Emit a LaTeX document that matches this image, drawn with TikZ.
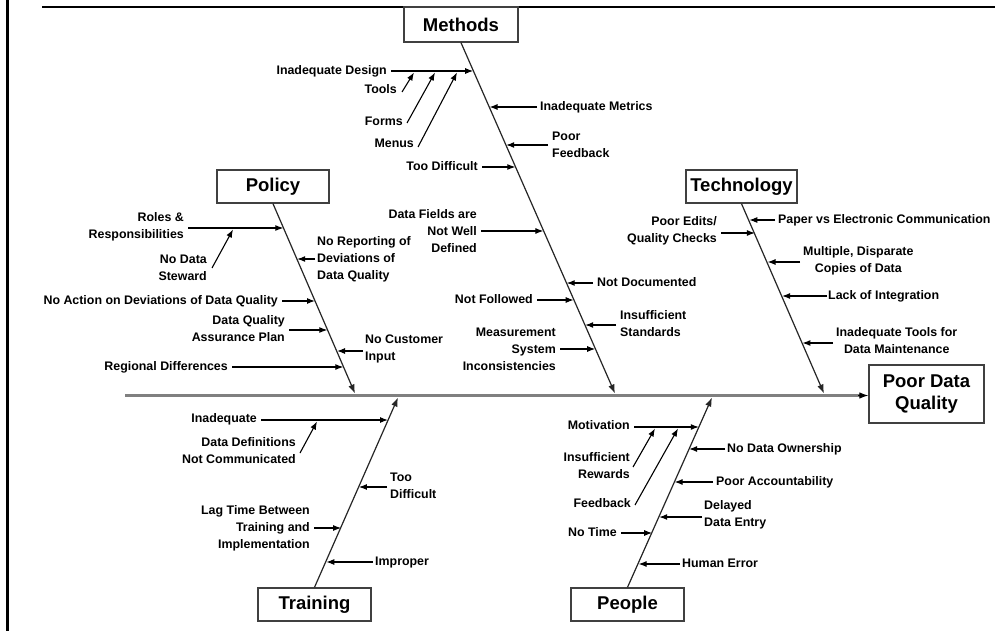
\documentclass[tikz,border=0pt]{standalone}
\usepackage{fontspec}
\setmainfont{Liberation Sans}
\usetikzlibrary{arrows.meta,calc}
\begin{document}
\begin{tikzpicture}[x=1pt,y=-1pt,
  lbl/.style={inner sep=0pt, font=\fontsize{12.4}{17}\selectfont\bfseries, text height=8.8pt, text depth=2.5pt},
  mlbl/.style={inner sep=0pt, font=\fontsize{12.4}{17}\selectfont\bfseries},
  cat/.style={draw=black!75, line width=1.4pt, fill=white, inner sep=0pt, font=\fontsize{18.5}{22}\selectfont\bfseries, minimum height=33pt},
  arr/.style={draw=black, line width=1.1pt, -{Latex[length=8pt,width=6pt]}},
  bone/.style={draw=black!85, line width=1.2pt, -{Latex[length=9pt,width=6.5pt]}},
  spine/.style={draw=black!50, line width=2.6pt},
  spinearr/.style={draw=black, line width=1pt, -{Latex[length=9pt,width=6.5pt]}},
  frame/.style={draw=black, line width=3pt}
]
\useasboundingbox (0,0) rectangle (1006,631);
\fill[white] (0,0) rectangle (1006,631);

% frame
\coordinate (fl1) at (7.5,0);
\coordinate (fl2) at (7.5,631);
\coordinate (ft1) at (42,7);
\coordinate (ft2) at (995,7);
\draw[frame] (fl1) -- (fl2);
\draw[draw=black, line width=2pt] (ft1) -- (ft2);

% category boxes
\node[cat, minimum width=114pt, minimum height=35pt] (methods) at (461,24.5) {Methods};
\node[cat, minimum width=112pt] (policy) at (273,186.5) {Policy};
\node[cat, minimum width=111pt] (tech) at (741.5,186.5) {Technology};
\node[cat, minimum width=113pt] (training) at (314.5,604.5) {Training};
\node[cat, minimum width=113pt] (people) at (627.5,604.5) {People};
\node[cat, minimum width=115pt, minimum height=58pt, align=center] (pdq) at (926.5,394) {Poor Data\\Quality};

% main spine
\coordinate (spstart) at (125,395.5);
\draw[spine] (spstart) -- ($(pdq.west |- spstart)+(-8,0)$);
\draw[spinearr] ($(pdq.west |- spstart)+(-10,0)$) -- (pdq.west |- spstart);

% bone end points
\coordinate (mE) at (615,393.5);
\coordinate (pE) at (355,393.5);
\coordinate (tE) at (824,393.5);
\coordinate (trE) at (398,397.5);
\coordinate (peE) at (712,397.5);
\draw[bone] (methods.south) -- (mE);
\draw[bone] (policy.south) -- (pE);
\draw[bone] (tech.south) -- (tE);
\draw[bone] (training.north) -- (trE);
\draw[bone] (people.north) -- (peE);

% ---------- Methods ----------
\coordinate (m1) at (473.2,71);
\coordinate (m2) at (489.5,107);
\coordinate (m3) at (506.2,145);
\coordinate (m4) at (515.3,167);
\coordinate (m5) at (543.4,231);
\coordinate (m6) at (566.7,283);
\coordinate (m7) at (573.7,300);
\coordinate (m8) at (585.2,325);
\coordinate (m9) at (595.2,349);
\coordinate (m1a) at (414,72.5);
\coordinate (m1b) at (435,72.5);
\coordinate (m1c) at (457,72.5);

\node[lbl, anchor=east] (insdesign) at (387,71) {Inadequate Design};
\node[lbl, anchor=east] (tools) at (397,90) {Tools};
\node[lbl, anchor=east] (forms) at (403,122) {Forms};
\node[lbl, anchor=east] (menus) at (414,144) {Menus};
\node[lbl, anchor=west] (inmetrics) at (540,107) {Inadequate Metrics};
\node[mlbl, anchor=west, align=left] (poorfb) at (552,145) {Poor\\Feedback};
\node[lbl, anchor=east] (toodiff) at (478,167) {Too Difficult};
\node[mlbl, anchor=east, align=right] (datafields) at (477,231) {Data Fields are\\Not Well\\Defined};
\node[lbl, anchor=west] (notdoc) at (597,283) {Not Documented};
\node[lbl, anchor=east] (notfollowed) at (533,300) {Not Followed};
\node[mlbl, anchor=west, align=left] (insstd) at (620,324) {Insufficient\\Standards};
\node[mlbl, anchor=east, align=right] (meas) at (556,349) {Measurement\\System\\Inconsistencies};

\draw[arr] ($(insdesign.east |- m1)+(4,0)$) -- (m1);
\draw[arr] ($(tools.east)+(5,2)$) -- (m1a);
\draw[arr] ($(forms.east)+(4,1)$) -- (m1b);
\draw[arr] ($(menus.east)+(4,3)$) -- (m1c);
\draw[arr] ($(inmetrics.west |- m2)+(-3,0)$) -- (m2);
\draw[arr] ($(poorfb.west |- m3)+(-4,0)$) -- (m3);
\draw[arr] ($(toodiff.east |- m4)+(4,0)$) -- (m4);
\draw[arr] ($(datafields.east |- m5)+(4,0)$) -- (m5);
\draw[arr] ($(notdoc.west |- m6)+(-4,0)$) -- (m6);
\draw[arr] ($(notfollowed.east |- m7)+(4,0)$) -- (m7);
\draw[arr] ($(insstd.west |- m8)+(-4,0)$) -- (m8);
\draw[arr] ($(meas.east |- m9)+(4,0)$) -- (m9);

% ---------- Policy ----------
\coordinate (p1) at (283.3,228);
\coordinate (p2) at (297.2,259);
\coordinate (p3) at (315,301);
\coordinate (p4) at (327.3,330);
\coordinate (p5) at (337,351);
\coordinate (p6) at (343.3,367);
\coordinate (p1a) at (233,229.5);

\node[mlbl, anchor=east, align=right] (roles) at (184,227) {Roles \&\\Responsibilities};
\node[mlbl, anchor=east, align=right] (nosteward) at (207,268) {No Data\\Steward};
\node[mlbl, anchor=west, align=left] (noreport) at (317,259) {No Reporting of\\Deviations of\\Data Quality};
\node[lbl, anchor=east] (noaction) at (278,301) {No Action on Deviations of Data Quality};
\node[mlbl, anchor=east, align=right] (dqap) at (285,329) {Data Quality\\Assurance Plan};
\node[mlbl, anchor=west, align=left] (nocust) at (365,349) {No Customer\\Input};
\node[lbl, anchor=east] (regional) at (228,367) {Regional Differences};

\draw[arr] ($(roles.east |- p1)+(4,0)$) -- (p1);
\draw[arr] ($(nosteward.east)+(5,0)$) -- (p1a);
\draw[arr] ($(noreport.west |- p2)+(-2,0)$) -- (p2);
\draw[arr] ($(noaction.east |- p3)+(4,0)$) -- (p3);
\draw[arr] ($(dqap.east |- p4)+(4,0)$) -- (p4);
\draw[arr] ($(nocust.west |- p5)+(-2,0)$) -- (p5);
\draw[arr] ($(regional.east |- p6)+(4,0)$) -- (p6);

% ---------- Technology ----------
\coordinate (t1) at (749.3,220);
\coordinate (t2) at (754.9,233);
\coordinate (t3) at (767.5,262);
\coordinate (t4) at (782.1,296);
\coordinate (t5) at (802.4,343);

\node[lbl, anchor=west] (paper) at (778,220) {Paper vs Electronic Communication};
\node[mlbl, anchor=east, align=right] (pooredits) at (717,231) {Poor Edits/\\Quality Checks};
\node[mlbl, anchor=west, align=center] (multiple) at (803,261) {Multiple, Disparate\\Copies of Data};
\node[lbl, anchor=west] (lack) at (828,296) {Lack of Integration};
\node[mlbl, anchor=west, align=center] (inadtools) at (836,341) {Inadequate Tools for\\Data Maintenance};

\draw[arr] ($(paper.west |- t1)+(-3,0)$) -- (t1);
\draw[arr] ($(pooredits.east |- t2)+(4,0)$) -- (t2);
\draw[arr] ($(multiple.west |- t3)+(-3,0)$) -- (t3);
\draw[arr] ($(lack.west |- t4)+(-1,0)$) -- (t4);
\draw[arr] ($(inadtools.west |- t5)+(-3,0)$) -- (t5);

% ---------- Training ----------
\coordinate (r1) at (388,420);
\coordinate (r2) at (358.9,487);
\coordinate (r3) at (341.1,528);
\coordinate (r4) at (326.3,562);
\coordinate (r1a) at (317,421.5);

\node[lbl, anchor=east] (tinad) at (257,419) {Inadequate};
\node[mlbl, anchor=east, align=right] (datadef) at (296,451) {Data Definitions\\Not Communicated};
\node[mlbl, anchor=west, align=left] (ttoodiff) at (390,486) {Too\\Difficult};
\node[mlbl, anchor=east, align=right] (lagtime) at (310,528) {Lag Time Between\\Training and\\Implementation};
\node[lbl, anchor=west] (improper) at (375,562) {Improper};

\draw[arr] ($(tinad.east |- r1)+(4,0)$) -- (r1);
\draw[arr] ($(datadef.east)+(4,2)$) -- (r1a);
\draw[arr] ($(ttoodiff.west |- r2)+(-3,0)$) -- (r2);
\draw[arr] ($(lagtime.east |- r3)+(4,0)$) -- (r3);
\draw[arr] ($(improper.west |- r4)+(-2,0)$) -- (r4);

% ---------- People ----------
\coordinate (q1) at (698.8,427);
\coordinate (q2) at (689.1,449);
\coordinate (q3) at (674.6,482);
\coordinate (q4) at (659.2,517);
\coordinate (q5) at (652.2,533);
\coordinate (q6) at (638.6,564);
\coordinate (q1a) at (655,428.5);
\coordinate (q1b) at (678,428.5);

\node[lbl, anchor=east] (motivation) at (630,426) {Motivation};
\node[mlbl, anchor=east, align=right] (insrew) at (630,466) {Insufficient\\Rewards};
\node[lbl, anchor=east] (feedback) at (631,504) {Feedback};
\node[lbl, anchor=west] (nodataown) at (727,449) {No Data Ownership};
\node[lbl, anchor=west] (pooracc) at (716,482) {Poor Accountability};
\node[mlbl, anchor=west, align=left] (delayed) at (704,515) {Delayed\\Data Entry};
\node[lbl, anchor=east] (notime) at (617,533) {No Time};
\node[lbl, anchor=west] (human) at (682,564) {Human Error};

\draw[arr] ($(motivation.east |- q1)+(4,0)$) -- (q1);
\draw[arr] ($(insrew.east)+(3,1)$) -- (q1a);
\draw[arr] ($(feedback.east)+(4,1)$) -- (q1b);
\draw[arr] ($(nodataown.west |- q2)+(-2,0)$) -- (q2);
\draw[arr] ($(pooracc.west |- q3)+(-3,0)$) -- (q3);
\draw[arr] ($(delayed.west |- q4)+(-2,0)$) -- (q4);
\draw[arr] ($(notime.east |- q5)+(4,0)$) -- (q5);
\draw[arr] ($(human.west |- q6)+(-2,0)$) -- (q6);
\end{tikzpicture}
\end{document}
